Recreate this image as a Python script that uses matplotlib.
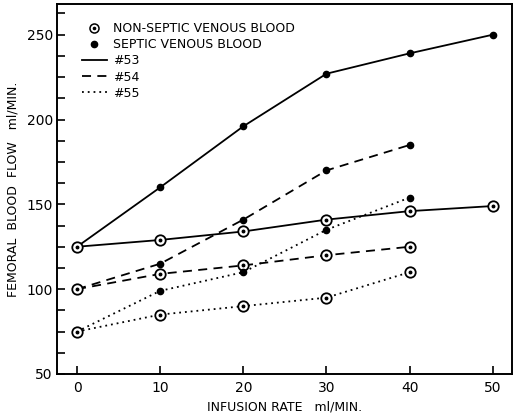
import matplotlib
matplotlib.use("Agg")
import matplotlib.pyplot as plt
from matplotlib.lines import Line2D
from matplotlib.legend_handler import HandlerTuple

# infusion rate ml/min
rate = [0, 10, 20, 30, 40, 50]

# femoral blood flow ml/min
septic_53 = [125, 160, 196, 227, 239, 250]
nonseptic_53 = [125, 129, 134, 141, 146, 149]
septic_54 = [100, 115, 141, 170, 185]
nonseptic_54 = [100, 109, 114, 120, 125]
septic_55 = [75, 99, 110, 135, 154]
nonseptic_55 = [75, 85, 90, 95, 110]

plt.rcParams['font.family'] = ['DejaVu Sans']
plt.rcParams['font.size'] = 9

fig = plt.figure(figsize=(5.14, 4.16), dpi=100)
ax = fig.add_axes([0.111, 0.101, 0.885, 0.889])

dash = (0, (5, 3.5))
dot = (0, (1, 2.2))
styles = [('-', septic_53, nonseptic_53),
          (dash, septic_54, nonseptic_54),
          (dot, septic_55, nonseptic_55)]

lw = 1.3
for ls, sep, non in styles:
    ax.plot(rate[:len(sep)], sep, color='black', lw=lw, ls=ls, zorder=2)
    ax.plot(rate[:len(non)], non, color='black', lw=lw, ls=ls, zorder=2)

for ls, sep, non in styles:
    ax.plot(rate[:len(sep)], sep, ls='none', marker='o', ms=4.5,
            color='black', zorder=4)
    ax.plot(rate[:len(non)], non, ls='none', marker='o', ms=7.5,
            mfc='white', mec='black', mew=1.3, zorder=4)
    ax.plot(rate[:len(non)], non, ls='none', marker='o', ms=1.8,
            color='black', zorder=5)

ax.set_xlim(-2.4, 52.3)
ax.set_ylim(50, 268)
ax.set_xticks([0, 10, 20, 30, 40, 50])
ax.set_yticks([50, 100, 150, 200, 250])
ax.set_yticks([62.5, 75, 87.5, 112.5, 125, 137.5, 162.5, 175, 187.5,
               212.5, 225, 237.5, 262.5], minor=True)
ax.tick_params(direction='in', length=6, width=1.2, labelsize=10, pad=5)
ax.tick_params(axis='y', pad=3)
ax.tick_params(which='minor', direction='in', length=6, width=1.2)
for s in ax.spines.values():
    s.set_linewidth(1.4)

ax.set_xlabel('INFUSION RATE   ml/MIN.', fontsize=9, labelpad=4)
ax.set_ylabel('FEMORAL  BLOOD  FLOW   ml/MIN.', fontsize=9, labelpad=5)

ring = Line2D([], [], ls='none', marker='o', ms=6.5, mfc='white',
              mec='black', mew=1.1)
pip = Line2D([], [], ls='none', marker='o', ms=1.6, color='black')
full = Line2D([], [], ls='none', marker='o', ms=4.5, color='black')
handles = [(ring, pip), full,
           Line2D([], [], color='black', lw=lw, ls='-'),
           Line2D([], [], color='black', lw=lw, ls=dash),
           Line2D([], [], color='black', lw=lw, ls=dot)]
labels = ['NON-SEPTIC VENOUS BLOOD', 'SEPTIC VENOUS BLOOD', '#53', '#54', '#55']
ax.legend(handles, labels, loc='upper left', frameon=False, fontsize=9,
          handlelength=2.0, handletextpad=0.5, labelspacing=0.25,
          borderaxespad=0.3, bbox_to_anchor=(0.035, 0.975),
          handler_map={tuple: HandlerTuple(ndivide=1)})

fig.savefig('out.png', dpi=100)
